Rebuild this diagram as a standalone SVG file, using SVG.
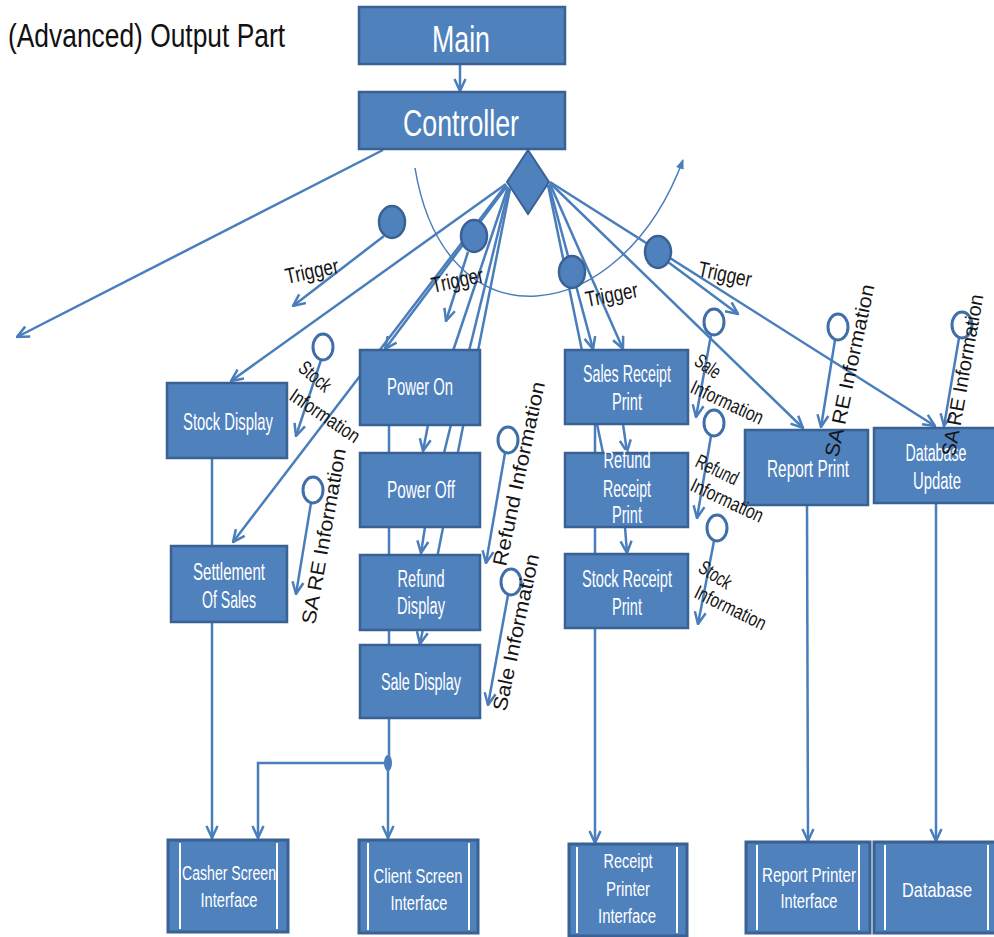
<svg xmlns="http://www.w3.org/2000/svg" width="994" height="937" viewBox="0 0 994 937">
  <style>
    .wire { fill: none; stroke: #4a7ebb; stroke-width: 2.5; }
    .thin { fill: none; stroke: #4a7ebb; stroke-width: 1.5; }
    .box { fill: #4f81bd; stroke: #3a6193; stroke-width: 2.5; }
    .sub { fill: #4f81bd; stroke: #3a6193; stroke-width: 3; }
    .bar { stroke: #ffffff; stroke-width: 2; }
    .trig { fill: #4f81bd; stroke: #3a6193; stroke-width: 2.5; }
    .flow { fill: #ffffff; stroke: #3f6ea8; stroke-width: 3; }
    .lbl { font-family: "Liberation Sans", Arial, sans-serif; fill: #ffffff; text-anchor: middle; font-size: 23px; }
    .big { font-size: 37px; }
    .lbs { font-family: "Liberation Sans", Arial, sans-serif; fill: #ffffff; text-anchor: middle; font-size: 20px; }
    .ann { font-family: "Liberation Sans", Arial, sans-serif; fill: #151515; font-size: 20px; }
    .tg { font-size: 22px; }
    .title { font-family: "Liberation Sans", Arial, sans-serif; fill: #111111; font-size: 34px; }
  </style>
  <defs>
    <marker id="arr" viewBox="0 0 14 14" refX="13" refY="7" markerWidth="14" markerHeight="14" markerUnits="userSpaceOnUse" orient="auto">
      <path d="M1,1.5 L13,7 L1,12.5" fill="none" stroke="#4a7ebb" stroke-width="2.5"/>
    </marker>
    <marker id="tip" viewBox="0 0 10 10" refX="9" refY="5" markerWidth="10" markerHeight="10" markerUnits="userSpaceOnUse" orient="auto">
      <path d="M0,1 L10,5 L0,9 Z" fill="#4a7ebb"/>
    </marker>
  </defs>

  <rect width="994" height="937" fill="#ffffff"/>

  <text class="title" x="8" y="47" textLength="277" lengthAdjust="spacingAndGlyphs">(Advanced) Output Part</text>

  <!-- connectors -->
  <g id="connectors">
    <path class="wire" d="M460,64 L460,91" marker-end="url(#arr)"/>
    <path class="wire" d="M383,150 L17,337" marker-end="url(#arr)"/>

    <!-- left fan from the decision diamond -->
    <path class="wire" d="M506,184 L231,381" marker-end="url(#arr)"/>
    <path class="wire" d="M506,185 L233,542" marker-end="url(#arr)"/>
    <path class="wire" d="M507,186 L385,349" marker-end="url(#arr)"/>
    <path class="wire" d="M508,187 L453,351"/>
    <path class="wire" d="M509,188 L444,453"/>
    <path class="wire" d="M510,189 L420,644" marker-end="url(#arr)"/>
    <path class="wire" d="M428,425 L423,451" marker-end="url(#arr)"/>
    <path class="wire" d="M425,527 L421,553" marker-end="url(#arr)"/>

    <!-- right fan from the decision diamond -->
    <path class="wire" d="M548,185 L603,453"/>
    <path class="wire" d="M549,185 L593,349" marker-end="url(#arr)"/>
    <path class="wire" d="M550,184 L623,349" marker-end="url(#arr)"/>
    <path class="wire" d="M550,183 L803,428" marker-end="url(#arr)"/>
    <path class="wire" d="M550,182 L935,426" marker-end="url(#arr)"/>
    <path class="wire" d="M623,424 L627,452" marker-end="url(#arr)"/>
    <path class="wire" d="M625,527 L627,553" marker-end="url(#arr)"/>

    <!-- trigger stems -->
    <path class="wire" d="M384,236 L293,306" marker-end="url(#arr)"/>
    <path class="wire" d="M468,252 L446,321" marker-end="url(#arr)"/>
    <path class="wire" d="M668,262 L738,314" marker-end="url(#arr)"/>

    <!-- information stems -->
    <path class="wire" d="M321,360 L296,436" marker-end="url(#arr)"/>
    <path class="wire" d="M311,503 L296,594" marker-end="url(#arr)"/>
    <path class="wire" d="M505,453 L486,563" marker-end="url(#arr)"/>
    <path class="wire" d="M508,595 L488,705" marker-end="url(#arr)"/>
    <path class="wire" d="M711,335 L696,417" marker-end="url(#arr)"/>
    <path class="wire" d="M711,436 L697,518" marker-end="url(#arr)"/>
    <path class="wire" d="M714,541 L698,624" marker-end="url(#arr)"/>
    <path class="wire" d="M835,340 L821,427" marker-end="url(#arr)"/>
    <path class="wire" d="M959,338 L944,426" marker-end="url(#arr)"/>

    <!-- loop arc -->
    <path class="thin" d="M415,168 C445,350 620,330 683,160" marker-end="url(#tip)"/>

    <!-- drops to the interfaces -->
    <path class="wire" d="M212,458 L212,838" marker-end="url(#arr)"/>
    <path class="wire" d="M389,425 L389,763"/>
    <path class="wire" d="M388,763 L388,838" marker-end="url(#arr)"/>
    <path class="wire" d="M388,763 L258,763 L258,838" stroke-width="3" marker-end="url(#arr)"/>
    <ellipse cx="388" cy="763" rx="4" ry="8" fill="#4a7ebb"/>
    <path class="wire" d="M595,424 L595,843" marker-end="url(#arr)"/>
    <path class="wire" d="M807,505 L808,841" marker-end="url(#arr)"/>
    <path class="wire" d="M936,503 L936,841" marker-end="url(#arr)"/>
  </g>

  <!-- nodes -->
  <g id="main">
    <rect class="box" x="359" y="7" width="206" height="57"/>
    <text class="lbl big" x="461" y="52" textLength="58" lengthAdjust="spacingAndGlyphs">Main</text>
  </g>
  <g id="controller">
    <rect class="box" x="359" y="92" width="206" height="57"/>
    <text class="lbl big" x="461" y="136" textLength="116" lengthAdjust="spacingAndGlyphs">Controller</text>
  </g>
  <g id="decision">
    <path d="M528,150 L549,182 L528,214 L507,182 Z" fill="#4f81bd" stroke="#3a6193" stroke-width="2"/>
  </g>

  <g id="stock-display">
    <rect class="box" x="167" y="383" width="120" height="75"/>
    <text class="lbl" x="228" y="430" textLength="90" lengthAdjust="spacingAndGlyphs">Stock Display</text>
  </g>
  <g id="settlement">
    <rect class="box" x="171" y="546" width="116" height="76"/>
    <text class="lbl" x="229" y="580" textLength="72" lengthAdjust="spacingAndGlyphs">Settlement</text>
    <text class="lbl" x="229" y="608" textLength="54" lengthAdjust="spacingAndGlyphs">Of Sales</text>
  </g>
  <g id="power-on">
    <rect class="box" x="360" y="350" width="120" height="75"/>
    <text class="lbl" x="420" y="395" textLength="66" lengthAdjust="spacingAndGlyphs">Power On</text>
  </g>
  <g id="power-off">
    <rect class="box" x="360" y="453" width="120" height="74"/>
    <text class="lbl" x="421" y="498" textLength="68" lengthAdjust="spacingAndGlyphs">Power Off</text>
  </g>
  <g id="refund-display">
    <rect class="box" x="360" y="555" width="120" height="75"/>
    <text class="lbl" x="421" y="587" textLength="47" lengthAdjust="spacingAndGlyphs">Refund</text>
    <text class="lbl" x="421" y="614" textLength="48" lengthAdjust="spacingAndGlyphs">Display</text>
  </g>
  <g id="sale-display">
    <rect class="box" x="360" y="645" width="120" height="73"/>
    <text class="lbl" x="421" y="690" textLength="80" lengthAdjust="spacingAndGlyphs">Sale Display</text>
  </g>
  <g id="sales-receipt-print">
    <rect class="box" x="565" y="350" width="123" height="74"/>
    <text class="lbl" x="627" y="382" textLength="88" lengthAdjust="spacingAndGlyphs">Sales Receipt</text>
    <text class="lbl" x="627" y="410" textLength="30" lengthAdjust="spacingAndGlyphs">Print</text>
  </g>
  <g id="refund-receipt-print">
    <rect class="box" x="565" y="453" width="123" height="74"/>
    <text class="lbl" x="627" y="468" textLength="47" lengthAdjust="spacingAndGlyphs">Refund</text>
    <text class="lbl" x="627" y="497" textLength="48" lengthAdjust="spacingAndGlyphs">Receipt</text>
    <text class="lbl" x="627" y="523" textLength="30" lengthAdjust="spacingAndGlyphs">Print</text>
  </g>
  <g id="stock-receipt-print">
    <rect class="box" x="565" y="554" width="123" height="74"/>
    <text class="lbl" x="627" y="587" textLength="90" lengthAdjust="spacingAndGlyphs">Stock Receipt</text>
    <text class="lbl" x="627" y="615" textLength="30" lengthAdjust="spacingAndGlyphs">Print</text>
  </g>
  <g id="report-print">
    <rect class="box" x="745" y="430" width="123" height="75"/>
    <text class="lbl" x="808" y="477" textLength="82" lengthAdjust="spacingAndGlyphs">Report  Print</text>
  </g>
  <g id="database-update">
    <rect class="box" x="874" y="428" width="124" height="75"/>
    <text class="lbl" x="936" y="461" textLength="61" lengthAdjust="spacingAndGlyphs">Database</text>
    <text class="lbl" x="937" y="489" textLength="48" lengthAdjust="spacingAndGlyphs">Update</text>
  </g>

  <g id="casher-screen-interface">
    <rect class="sub" x="168" y="840" width="120" height="92"/>
    <line class="bar" x1="180" y1="843" x2="180" y2="929"/>
    <line class="bar" x1="277" y1="843" x2="277" y2="929"/>
    <text class="lbs" x="229" y="880" textLength="94" lengthAdjust="spacingAndGlyphs">Casher Screen</text>
    <text class="lbs" x="229" y="907" textLength="57" lengthAdjust="spacingAndGlyphs">Interface</text>
  </g>
  <g id="client-screen-interface">
    <rect class="sub" x="359" y="840" width="119" height="93"/>
    <line class="bar" x1="368" y1="843" x2="368" y2="930"/>
    <line class="bar" x1="469" y1="843" x2="469" y2="930"/>
    <text class="lbs" x="418" y="883" textLength="89" lengthAdjust="spacingAndGlyphs">Client Screen</text>
    <text class="lbs" x="419" y="910" textLength="57" lengthAdjust="spacingAndGlyphs">Interface</text>
  </g>
  <g id="receipt-printer-interface">
    <rect class="sub" x="569" y="844" width="118" height="92"/>
    <line class="bar" x1="577" y1="847" x2="577" y2="933"/>
    <line class="bar" x1="677" y1="847" x2="677" y2="933"/>
    <text class="lbs" x="628" y="868" textLength="49" lengthAdjust="spacingAndGlyphs">Receipt</text>
    <text class="lbs" x="628" y="896" textLength="44" lengthAdjust="spacingAndGlyphs">Printer</text>
    <text class="lbs" x="627" y="923" textLength="58" lengthAdjust="spacingAndGlyphs">Interface</text>
  </g>
  <g id="report-printer-interface">
    <rect class="sub" x="746" y="842" width="124" height="91"/>
    <line class="bar" x1="757" y1="845" x2="757" y2="930"/>
    <line class="bar" x1="859" y1="845" x2="859" y2="930"/>
    <text class="lbs" x="809" y="882" textLength="94" lengthAdjust="spacingAndGlyphs">Report  Printer</text>
    <text class="lbs" x="809" y="908" textLength="57" lengthAdjust="spacingAndGlyphs">Interface</text>
  </g>
  <g id="database">
    <rect class="sub" x="874" y="842" width="124" height="91"/>
    <line class="bar" x1="885" y1="845" x2="885" y2="930"/>
    <line class="bar" x1="988" y1="845" x2="988" y2="930"/>
    <text class="lbs" x="937" y="897" textLength="70" lengthAdjust="spacingAndGlyphs">Database</text>
  </g>

  <!-- trigger markers -->
  <g id="triggers">
    <ellipse class="trig" cx="392" cy="222" rx="13" ry="16"/>
    <ellipse class="trig" cx="474" cy="236" rx="13" ry="16"/>
    <ellipse class="trig" cx="572" cy="272" rx="13" ry="16"/>
    <ellipse class="trig" cx="658" cy="252" rx="13" ry="16"/>
    <text class="ann tg" transform="translate(287,284) rotate(-12)" textLength="54" lengthAdjust="spacingAndGlyphs">Trigger</text>
    <text class="ann tg" transform="translate(433,293) rotate(-12)" textLength="53" lengthAdjust="spacingAndGlyphs">Trigger</text>
    <text class="ann tg" transform="translate(587,307) rotate(-11)" textLength="53" lengthAdjust="spacingAndGlyphs">Trigger</text>
    <text class="ann tg" transform="translate(697,276) rotate(12)" textLength="54" lengthAdjust="spacingAndGlyphs">Trigger</text>
  </g>

  <!-- data flow markers -->
  <g id="flows">
    <ellipse class="flow" cx="323" cy="347" rx="10" ry="13"/>
    <ellipse class="flow" cx="313" cy="490" rx="10" ry="13"/>
    <ellipse class="flow" cx="508" cy="440" rx="10" ry="13"/>
    <ellipse class="flow" cx="511" cy="582" rx="10" ry="13"/>
    <ellipse class="flow" cx="714" cy="322" rx="10" ry="13"/>
    <ellipse class="flow" cx="714" cy="423" rx="10" ry="13"/>
    <ellipse class="flow" cx="717" cy="528" rx="10" ry="13"/>
    <ellipse class="flow" cx="838" cy="327" rx="10" ry="13"/>
    <ellipse class="flow" cx="962" cy="325" rx="10" ry="13"/>

    <text class="ann" transform="translate(297,370) rotate(40)" textLength="36" lengthAdjust="spacingAndGlyphs">Stock</text>
    <text class="ann" transform="translate(288,399) rotate(34)" textLength="80" lengthAdjust="spacingAndGlyphs">Information</text>
    <text class="ann" transform="translate(315,625) rotate(-80)" textLength="178" lengthAdjust="spacingAndGlyphs">SA RE Information</text>
    <text class="ann" transform="translate(506,567) rotate(-78)" textLength="188" lengthAdjust="spacingAndGlyphs">Refund Information</text>
    <text class="ann" transform="translate(506,712) rotate(-78)" textLength="160" lengthAdjust="spacingAndGlyphs">Sale Information</text>

    <text class="ann" transform="translate(693,364) rotate(35)" textLength="27" lengthAdjust="spacingAndGlyphs">Sale</text>
    <text class="ann" transform="translate(689,392) rotate(25)" textLength="78" lengthAdjust="spacingAndGlyphs">Information</text>
    <text class="ann" transform="translate(694,466) rotate(26)" textLength="45" lengthAdjust="spacingAndGlyphs">Refund</text>
    <text class="ann" transform="translate(689,490) rotate(25)" textLength="78" lengthAdjust="spacingAndGlyphs">Information</text>
    <text class="ann" transform="translate(697,571) rotate(33)" textLength="35" lengthAdjust="spacingAndGlyphs">Stock</text>
    <text class="ann" transform="translate(693,597) rotate(26)" textLength="77" lengthAdjust="spacingAndGlyphs">Information</text>

    <text class="ann" transform="translate(838,458) rotate(-78)" textLength="176" lengthAdjust="spacingAndGlyphs">SA RE Information</text>
    <text class="ann" transform="translate(955,457) rotate(-80)" textLength="164" lengthAdjust="spacingAndGlyphs">SA RE Information</text>
  </g>
</svg>
